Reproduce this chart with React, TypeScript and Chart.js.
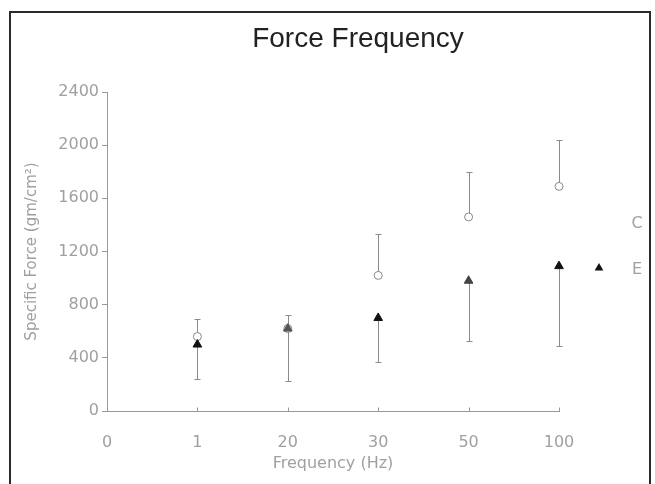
import React, { useEffect, useRef } from 'react';
import { Chart, registerables } from 'chart.js';

Chart.register(...registerables);

// ---- data ----
const chartTitle = 'Force Frequency';
const xTickLabels = ['0', '1', '20', '30', '50', '100'];
const xPositions = [1, 2, 3, 4, 5];
const controlMeans = [560, 620, 1020, 1460, 1690];
const controlUpper = [690, 720, 1330, 1800, 2040];
const expMeans = [500, 620, 700, 980, 1090];
const expLower = [240, 225, 370, 530, 490];
const expColors = ['#111', '#555', '#111', '#444', '#111'];
const legendLabels = ['C', 'E'];

const TICK_FONT = '"DejaVu Sans", sans-serif';
const LIGHT = '#a0a0a0';

const errorBarPlugin = {
  id: 'errorBars',
  beforeDatasetsDraw(chart: any) {
    const { ctx } = chart;
    const x = chart.scales.x;
    const y = chart.scales.y;
    ctx.save();
    ctx.strokeStyle = '#8a8a8a';
    ctx.lineWidth = 1;
    const draw = (xv: number, from: number, to: number) => {
      const px = Math.round(x.getPixelForValue(xv)) + 0.5;
      const p1 = y.getPixelForValue(from);
      const p2 = Math.round(y.getPixelForValue(to)) + 0.5;
      ctx.beginPath();
      ctx.moveTo(px, p1);
      ctx.lineTo(px, p2);
      ctx.moveTo(px - 3, p2);
      ctx.lineTo(px + 3, p2);
      ctx.stroke();
    };
    xPositions.forEach((xv, i) => {
      draw(xv, controlMeans[i], controlUpper[i]);
      draw(xv, expMeans[i], expLower[i]);
    });
    // inner tick marks on the x axis
    const axisY = Math.round(y.getPixelForValue(0)) + 0.5;
    ctx.strokeStyle = '#999';
    x.ticks.forEach((t: any) => {
      if (t.value === 0) return;
      const px = Math.round(x.getPixelForValue(t.value)) + 0.5;
      ctx.beginPath();
      ctx.moveTo(px, axisY);
      ctx.lineTo(px, axisY - 4);
      ctx.stroke();
    });
    ctx.restore();
  },
};

const titleAndLegendPlugin = {
  id: 'titleAndLegend',
  afterDraw(chart: any) {
    const { ctx, chartArea } = chart;
    ctx.save();
    // title
    ctx.font = '28px "Liberation Sans", Arial, sans-serif';
    ctx.fillStyle = '#222';
    ctx.textAlign = 'center';
    ctx.textBaseline = 'alphabetic';
    ctx.fillText(chartTitle, chartArea.left + 251, chartArea.top - 45);
    // legend
    ctx.font = `16px ${TICK_FONT}`;
    ctx.fillStyle = LIGHT;
    ctx.textAlign = 'center';
    ctx.textBaseline = 'middle';
    const tx = chartArea.right + 78;
    ctx.fillText(legendLabels[0], tx, chartArea.top + 132);
    ctx.fillText(legendLabels[1], tx, chartArea.top + 178);
    const mx = chartArea.right + 40;
    const my = chartArea.top + 176;
    const r = 5;
    ctx.fillStyle = '#111';
    ctx.beginPath();
    ctx.moveTo(mx, my - r);
    ctx.lineTo(mx + r * 0.866, my + r * 0.5);
    ctx.lineTo(mx - r * 0.866, my + r * 0.5);
    ctx.closePath();
    ctx.fill();
    ctx.restore();
  },
};

export default function App() {
  const canvasRef = useRef<HTMLCanvasElement | null>(null);

  useEffect(() => {
    if (!canvasRef.current) return;
    const chart = new Chart(canvasRef.current, {
      type: 'scatter',
      data: {
        datasets: [
          {
            label: 'E',
            data: xPositions.map((x, i) => ({ x, y: expMeans[i] })),
            pointStyle: 'triangle',
            pointRadius: 5,
            pointHoverRadius: 5,
            backgroundColor: expColors,
            borderColor: expColors,
            borderWidth: 1,
            clip: false,
          },
          {
            label: 'C',
            data: xPositions.map((x, i) => ({ x, y: controlMeans[i] })),
            pointStyle: 'circle',
            pointRadius: 4,
            pointHoverRadius: 4,
            backgroundColor: '#ffffff',
            borderColor: '#888',
            borderWidth: 1,
            clip: false,
          },
        ],
      },
      options: {
        animation: false,
        responsive: false,
        devicePixelRatio: 1,
        layout: { padding: { left: 0, right: 0, top: 92, bottom: 0 } },
        plugins: {
          legend: { display: false },
          tooltip: { enabled: false },
          title: { display: false },
        },
        scales: {
          x: {
            type: 'linear',
            position: 'bottom',
            min: 0,
            max: 5,
            afterFit: (s: any) => {
              s.height = 73;
            },
            ticks: {
              stepSize: 1,
              autoSkip: false,
              padding: 14,
              color: LIGHT,
              font: { family: TICK_FONT, size: 16 },
              callback: (v: any) => xTickLabels[v] ?? '',
            },
            grid: { display: false },
            border: { display: true, color: '#999' },
            title: {
              display: true,
              text: 'Frequency (Hz)',
              color: LIGHT,
              font: { family: TICK_FONT, size: 16 },
              padding: { top: 0, bottom: 11 },
            },
          },
          y: {
            type: 'linear',
            position: 'left',
            min: 0,
            max: 2400,
            afterFit: (s: any) => {
              s.width = 107;
            },
            ticks: {
              stepSize: 400,
              padding: 3,
              color: LIGHT,
              font: { family: TICK_FONT, size: 16 },
              callback: (v: any) => String(v),
            },
            grid: { display: true, drawOnChartArea: false, drawTicks: true, tickLength: 5, color: '#999' },
            border: { display: true, color: '#999' },
            title: {
              display: true,
              text: 'Specific Force (gm/cm²)',
              color: LIGHT,
              font: { family: TICK_FONT, size: 15 },
              padding: { top: 23, bottom: 0 },
            },
          },
          y2: {
            type: 'linear',
            position: 'right',
            display: true,
            min: 0,
            max: 2400,
            afterFit: (s: any) => {
              s.width = 96;
            },
            ticks: { display: false },
            grid: { display: false },
            border: { display: false },
          },
        },
      } as any,
      plugins: [errorBarPlugin, titleAndLegendPlugin],
    });
    return () => chart.destroy();
  }, []);

  return (
    <div style={{ position: 'fixed', left: 0, top: 0, width: 655, height: 484, background: '#fff', overflow: 'hidden' }}>
      <canvas ref={canvasRef} width={655} height={484} style={{ display: 'block' }} />
      <div
        style={{
          position: 'absolute',
          left: 9,
          top: 11,
          width: 638,
          height: 520,
          border: '2px solid #2a2a2a',
          pointerEvents: 'none',
        }}
      />
    </div>
  );
}
